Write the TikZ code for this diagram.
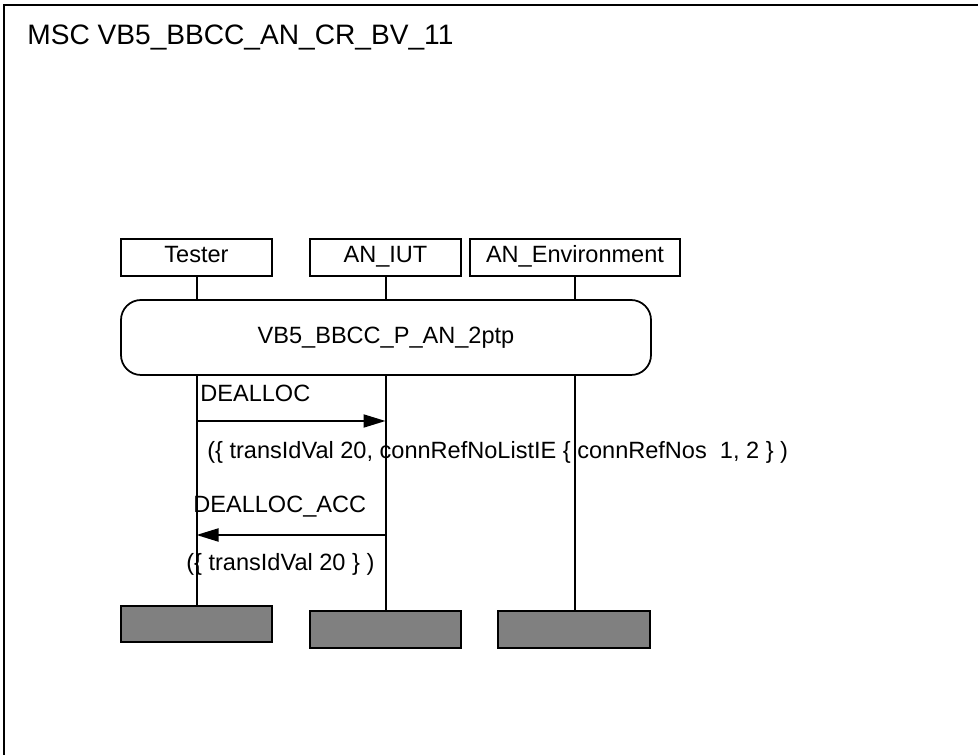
\documentclass[tikz,border=0pt]{standalone}
\usepackage{fontspec}
\setmainfont{Liberation Sans}
\usetikzlibrary{arrows.meta}
\tikzstyle{frame} = [line width=0.4mm]
\tikzstyle{inst} = [rectangle, draw, line width=0.35mm, minimum width=30.2mm, minimum height=7.4mm, inner sep=0, text height=1.6ex, text depth=0.45ex, font=\fontsize{13.4}{16}\selectfont]
\tikzstyle{ref} = [rectangle, rounded corners=4mm, draw, line width=0.35mm, fill=white, minimum width=106mm, minimum height=15mm, font=\fontsize{13.4}{16}\selectfont]
\tikzstyle{stopbox} = [rectangle, draw, line width=0.45mm, fill=gray, minimum width=30.2mm, minimum height=7.3mm, inner sep=0]
\tikzstyle{life} = [line width=0.4mm]
\tikzstyle{msg} = [line width=0.4mm,-{Triangle[length=4.4mm,width=2.6mm]}]
\tikzstyle{lbl} = [anchor=west, inner sep=0, font=\fontsize{13.4}{16}\selectfont]

\begin{document}
\begin{tikzpicture}[x=0.2mm,y=-0.2mm]
\useasboundingbox (0,0) rectangle (978,755);
\clip (0,0) rectangle (978,755);
\draw[frame] (4,800)--(4,5)--(1000,5);
\node[lbl,font=\fontsize{16}{19}\selectfont] (title) at (27,37) {MSC VB5\_BBCC\_AN\_CR\_BV\_11};
% instances
\node[inst] (tester) at (196.5,257.5) {Tester};
\node[inst] (iut) at (385.5,257.5) {AN\_IUT};
\node[inst,minimum width=42mm] (env) at (575,257.5) {AN\_Environment};
\node[stopbox] (tstop) at (196.5,624) {};
\node[stopbox] (istop) at (385.5,629.5) {};
\node[stopbox,minimum width=30.4mm] (estop) at (574,629.5) {};
\draw[life] (tester.south)--(tester.south |- tstop.north);
\draw[life] (iut.south)--(iut.south |- istop.north);
\draw[life] (env.south)--(env.south |- estop.north);
% reference
\node[ref] (refbox) at (386,337.5) {VB5\_BBCC\_P\_AN\_2ptp};
% messages
\draw[msg] (tester.south |- 0,421)--(iut.south |- 0,421);
\node[lbl] (m1) at (200,393) {DEALLOC};
\node[lbl] (p1) at (207,452) {(\{ transIdVal 20, connRefNoListIE \{ connRefNos\ \ 1, 2 \} )};
\draw[msg] (iut.south |- 0,535)--(tester.south |- 0,535);
\node[lbl] (m2) at (193,507) {DEALLOC\_ACC};
\node[lbl] (p2) at (186,564) {(\{ transIdVal 20 \} )};
\end{tikzpicture}
\end{document}
